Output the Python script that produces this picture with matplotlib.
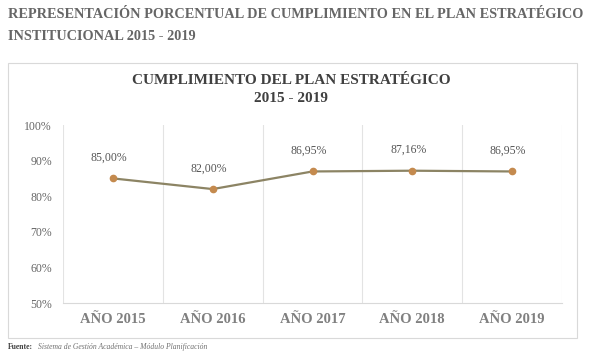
import matplotlib
matplotlib.use('Agg')
from matplotlib import pyplot as plt
from matplotlib.patches import Rectangle
import numpy as np

# Datos del gráfico
anios = ['AÑO 2015', 'AÑO 2016', 'AÑO 2017', 'AÑO 2018', 'AÑO 2019']
cumplimiento = [85.00, 82.00, 86.95, 87.16, 86.95]
etiquetas = ['85,00%', '82,00%', '86,95%', '87,16%', '86,95%']
yticks = [50, 60, 70, 80, 90, 100]

serif = ['Liberation Serif', 'DejaVu Serif']
plt.rcParams['font.family'] = serif

fig = plt.figure(figsize=(5.92, 3.55), dpi=100)

# Encabezado del documento
fig.text(8 / 592, 1 - 15 / 355,
         'REPRESENTACIÓN PORCENTUAL DE CUMPLIMIENTO EN EL PLAN ESTRATÉGICO',
         fontsize=10.3, fontweight='bold', color='#666666', va='center', ha='left')
fig.text(8 / 592, 1 - 37 / 355, 'INSTITUCIONAL 2015 - 2019',
         fontsize=10.3, fontweight='bold', color='#666666', va='center', ha='left')

# Marco del gráfico
marco = Rectangle((8 / 592, 1 - 338 / 355), (577 - 8) / 592, (338 - 63) / 355,
                  transform=fig.transFigure, fill=False, edgecolor='#d9d9d9', lw=0.8)
fig.patches.append(marco)

fig.text(291 / 592, 1 - 80 / 355, 'CUMPLIMIENTO DEL PLAN ESTRATÉGICO',
         fontsize=11, fontweight='bold', color='#404040', ha='center', va='center')
fig.text(291 / 592, 1 - 98 / 355, '2015 - 2019',
         fontsize=11, fontweight='bold', color='#404040', ha='center', va='center')

ax = fig.add_axes([63 / 592, 1 - 303 / 355, (562 - 63) / 592, (303 - 125) / 355])
x = np.arange(1, len(anios) + 1)
ax.plot(x, cumplimiento, color='#8c8464', lw=1.6, zorder=3)
ax.plot(x, cumplimiento, 'o', color='#c48a4e', ms=4.5, zorder=4)

for xi, yi, t in zip(x, cumplimiento, etiquetas):
    ax.annotate(t, (xi, yi), xytext=(-3, 10.5), textcoords='offset points',
                ha='center', va='bottom', fontsize=8.5, color='#555555')

ax.set_xlim(0.5, len(anios) + 0.5)
ax.set_ylim(50, 100)
ax.set_yticks(yticks)
ax.set_yticklabels([f'{v}%' for v in yticks], fontsize=8.5, color='#666666')
ax.set_xticks(x)
ax.set_xticklabels(anios, fontsize=10.5, fontweight='bold', color='#808080')
ax.tick_params(length=0, pad=7)
ax.tick_params(axis='y', pad=8)
for b in np.arange(0.5, len(anios) + 1):
    ax.axvline(b, color='#e3e3e3', lw=0.8, zorder=1)
for s in ['top', 'right', 'left']:
    ax.spines[s].set_visible(False)
ax.spines['bottom'].set_color('#d9d9d9')

fig.text(8 / 592, 1 - 347 / 355, 'Fuente:', fontsize=5.5, fontweight='bold',
         color='#404040', va='center', ha='left')
fig.text(38 / 592, 1 - 347 / 355,
         'Sistema de Gestión Académica – Módulo Planificación',
         fontsize=5.5, style='italic', color='#707070', va='center', ha='left')

fig.savefig('out.png', dpi=100)
